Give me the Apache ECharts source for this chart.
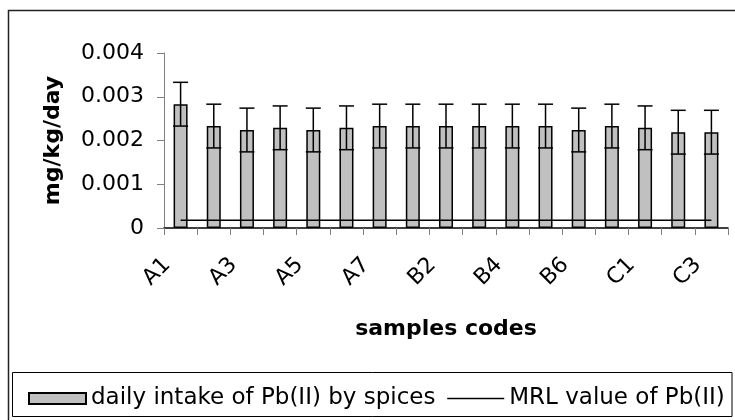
<!DOCTYPE html>
<html>
<head>
<meta charset="utf-8">
<script src="https://cdn.jsdelivr.net/npm/echarts@6/dist/echarts.min.js"></script>
<style>
  html, body { margin: 0; padding: 0; background: #fff; }
  #chart { width: 735px; height: 420px; }
</style>
</head>
<body>
<div id="chart"></div>
<script>
// sample codes on the x axis
const categories = ['A1', 'A2', 'A3', 'A4', 'A5', 'A6', 'A7',
  'B1', 'B2', 'B3', 'B4', 'B5', 'B6', 'B7', 'C1', 'C2', 'C3'];
// daily intake of Pb(II), mg/kg/day
const intakeValues = [0.00283, 0.00233, 0.00224, 0.00229, 0.00224, 0.00229, 0.00233,
  0.00233, 0.00233, 0.00233, 0.00233, 0.00233, 0.00224, 0.00233, 0.00229, 0.00219, 0.00219];
// error bar half-lengths
const intakeErrors = [0.0005, 0.0005, 0.0005, 0.0005, 0.0005, 0.0005, 0.0005,
  0.0005, 0.0005, 0.0005, 0.0005, 0.0005, 0.0005, 0.0005, 0.0005, 0.0005, 0.0005];
// MRL value of Pb(II)
const mrlValues = [0.00018, 0.00018, 0.00018, 0.00018, 0.00018, 0.00018, 0.00018,
  0.00018, 0.00018, 0.00018, 0.00018, 0.00018, 0.00018, 0.00018, 0.00018, 0.00018, 0.00018];

const FONT = 'DejaVu Sans';

const errorData = categories.map((c, i) => [i, intakeValues[i] - intakeErrors[i], intakeValues[i] + intakeErrors[i]]);

function renderErrorBar(params, api) {
  const x = api.value(0);
  const lo = api.coord([x, api.value(1)]);
  const hi = api.coord([x, api.value(2)]);
  const half = 7.5;
  const style = { stroke: '#000', lineWidth: 1.5 };
  return {
    type: 'group',
    children: [
      { type: 'line', shape: { x1: hi[0], y1: hi[1], x2: lo[0], y2: lo[1] }, style: style },
      { type: 'line', shape: { x1: hi[0] - half, y1: hi[1], x2: hi[0] + half, y2: hi[1] }, style: style },
      { type: 'line', shape: { x1: lo[0] - half, y1: lo[1], x2: lo[0] + half, y2: lo[1] }, style: style }
    ]
  };
}

const chart = echarts.init(document.getElementById('chart'));

chart.setOption({
  animation: false,
  backgroundColor: '#fff',
  textStyle: { fontFamily: FONT, color: '#000' },
  graphic: [
    // outer chart frame (runs off the right and bottom edge)
    { type: 'rect', shape: { x: 8.5, y: 10.5, width: 800, height: 500 },
      style: { fill: 'none', stroke: '#222', lineWidth: 1.5 }, z: 0 },
    // legend box
    { type: 'rect', shape: { x: 12.5, y: 372.5, width: 719.5, height: 44 },
      style: { fill: 'none', stroke: '#000', lineWidth: 1 }, z: 0 }
  ],
  grid: { left: 164, right: 7, top: 53, bottom: 192 },
  legend: {
    left: 28,
    top: 387,
    padding: 0,
    itemWidth: 57,
    itemHeight: 11,
    itemGap: 11,
    textStyle: { fontFamily: FONT, fontSize: 23, color: '#000' },
    data: [
      { name: 'daily intake of Pb(II) by spices', icon: 'rect' },
      {
        name: 'MRL value of Pb(II)',
        itemStyle: { color: 'rgba(0,0,0,0)', borderColor: 'rgba(0,0,0,0)', borderWidth: 0 },
        lineStyle: { color: '#000', width: 1.5 }
      }
    ]
  },
  xAxis: {
    type: 'category',
    data: categories,
    boundaryGap: true,
    name: 'samples codes',
    nameLocation: 'middle',
    nameGap: 90,
    nameTextStyle: { fontFamily: FONT, fontSize: 22, fontWeight: 'bold', color: '#000' },
    axisLine: { lineStyle: { color: '#000', width: 1.5 } },
    axisTick: { show: true, interval: 0, length: 7, alignWithLabel: false, lineStyle: { color: '#808080' } },
    axisLabel: {
      interval: 1,
      rotate: 45,
      margin: 20,
      padding: [0, 19, 0, 0],
      fontFamily: FONT,
      fontSize: 22,
      color: '#000'
    },
    splitLine: { show: false }
  },
  yAxis: {
    type: 'value',
    min: 0,
    max: 0.004,
    interval: 0.001,
    name: 'mg/kg/day',
    nameLocation: 'middle',
    nameGap: 100,
    nameTextStyle: { fontFamily: FONT, fontSize: 22, fontWeight: 'bold', color: '#000' },
    axisLine: { show: true, lineStyle: { color: '#808080', width: 1 } },
    axisTick: { show: true, length: 7, lineStyle: { color: '#808080' } },
    axisLabel: {
      margin: 20,
      fontFamily: FONT,
      fontSize: 22,
      color: '#000',
      formatter: function (v) { return v === 0 ? '0' : v.toFixed(3); }
    },
    splitLine: { show: false }
  },
  series: [
    {
      name: 'daily intake of Pb(II) by spices',
      type: 'bar',
      data: intakeValues,
      barWidth: 14,
      itemStyle: { color: '#c0c0c0', borderColor: '#000', borderWidth: 1.5 },
      z: 2
    },
    {
      name: 'MRL value of Pb(II)',
      type: 'line',
      data: mrlValues,
      symbol: 'none',
      lineStyle: { color: '#000', width: 1.5 },
      itemStyle: { color: '#000' },
      z: 3
    },
    {
      name: 'error',
      type: 'custom',
      data: errorData,
      encode: { x: 0, y: [1, 2] },
      renderItem: renderErrorBar,
      z: 4
    }
  ]
});
</script>
</body>
</html>
